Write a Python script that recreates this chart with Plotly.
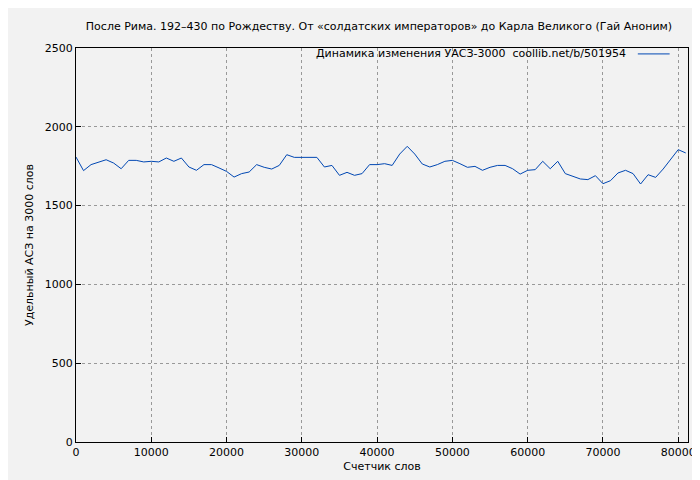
import plotly.graph_objects as go

words = list(range(0, 82000, 1000))
values = [1808,1722,1760,1777,1791,1770,1734,1787,1787,1777,1781,1777,1802,1781,1802,1745,1724,1760,1760,1739,
          1717,1681,1703,1713,1760,1743,1732,1755,1823,1806,1806,1806,1806,1745,1755,1692,1711,1692,1703,1760,
          1760,1766,1755,1827,1876,1827,1764,1745,1760,1781,1787,1766,1743,1749,1724,1743,1755,1755,1734,1700,
          1724,1728,1781,1734,1781,1703,1686,1669,1665,1690,1639,1658,1707,1724,1703,1637,1696,1679,1732,1791,
          1855,1834]
xticks = [0,10000,20000,30000,40000,50000,60000,70000,80000]
yticks = [0,500,1000,1500,2000,2500]
legend_text = "Динамика изменения УАСЗ-3000  coollib.net/b/501954"

fig = go.Figure(go.Scatter(x=words, y=values, mode="lines",
    line=dict(color="#0047b3", width=1), showlegend=False))

ax = dict(showline=True, linecolor="black", linewidth=1, mirror=True, ticks="inside", ticklen=5,
          tickcolor="black", showgrid=True, gridcolor="#999999", griddash="dot", gridwidth=1,
          zeroline=False, automargin=False, tickfont=dict(size=11))
fig.update_layout(
    width=700, height=480, paper_bgcolor="#f2f2f2", plot_bgcolor="#f2f2f2",
    margin=dict(l=68, r=20, t=40, b=46, autoexpand=False),
    font=dict(family="DejaVu Sans", size=11, color="black"),
    title=dict(text="После Рима. 192–430 по Рождеству. От «солдатских императоров» до Карла Великого (Гай Аноним)",
               x=0.53, xanchor="center", y=0.962, yanchor="middle", font=dict(size=11)),
    xaxis=dict(ax, range=[0, 81300], tickvals=xticks, ticktext=[str(t) for t in xticks],
               title=dict(text="Счетчик слов", standoff=4, font=dict(size=11))),
    yaxis=dict(ax, range=[0, 2500], tickvals=yticks, ticktext=[str(t) for t in yticks],
               title=dict(text="Удельный АСЗ на 3000 слов", standoff=8, font=dict(size=11))),
    showlegend=False,
)
fig.add_annotation(xref="paper", yref="paper", x=0.902, y=0.985, xanchor="right", yanchor="middle",
                   text=legend_text, showarrow=False, font=dict(size=11))
fig.add_shape(type="line", xref="paper", yref="paper", x0=0.918, x1=0.97, y0=0.985, y1=0.985,
              line=dict(color="#0047b3", width=1))
fig.write_html("out.html")
